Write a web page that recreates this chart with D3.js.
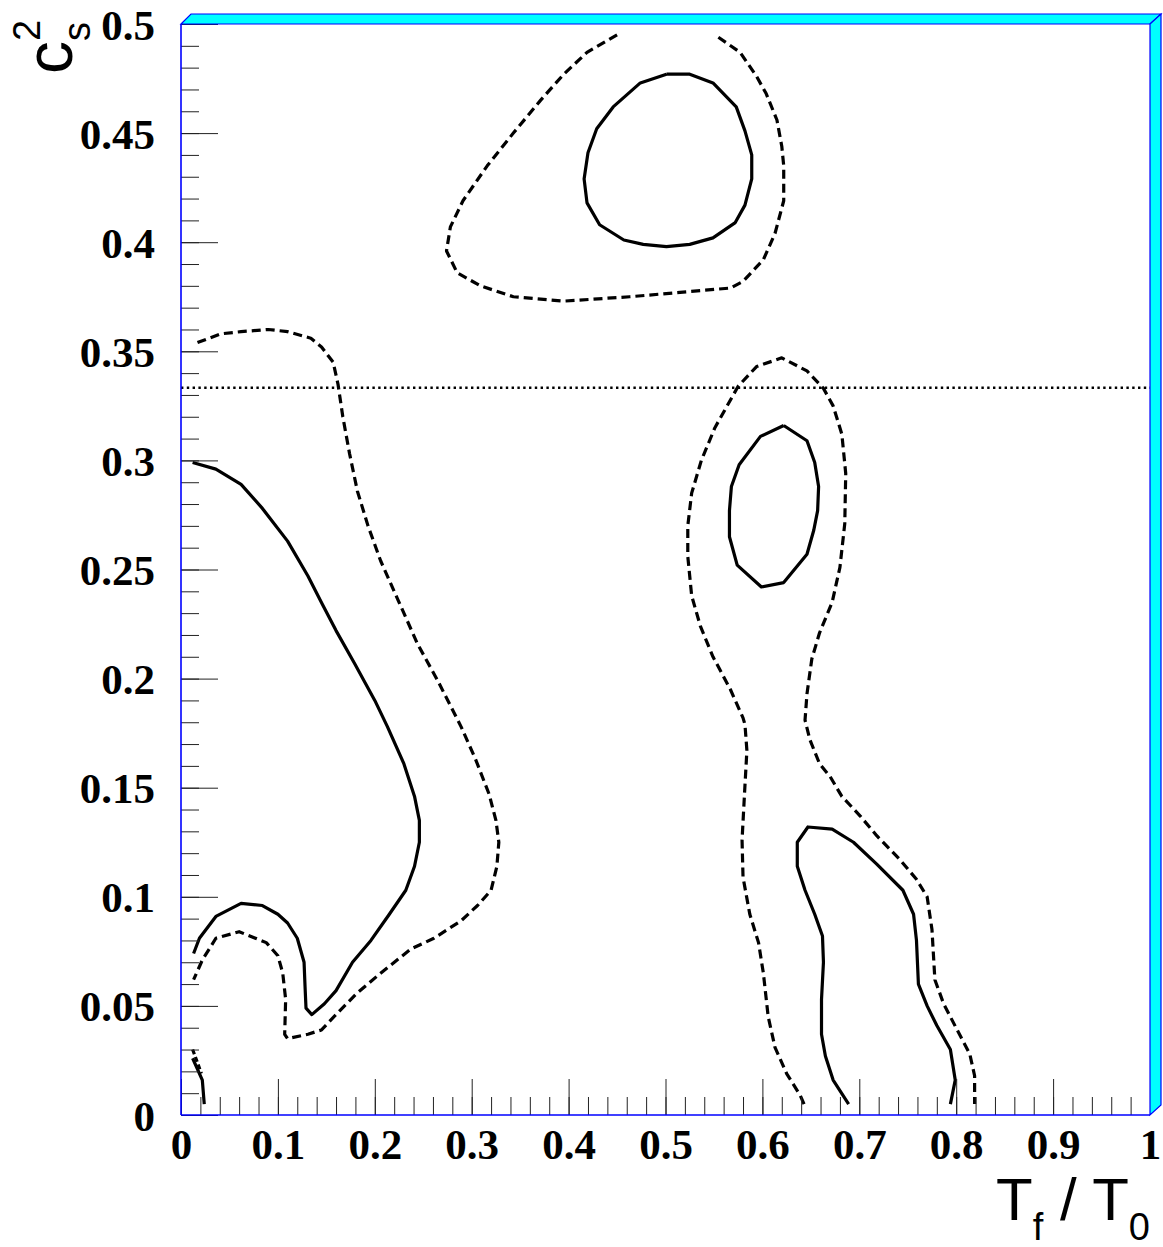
<!DOCTYPE html>
<html>
<head>
<meta charset="utf-8">
<script src="https://cdn.jsdelivr.net/npm/d3@7/dist/d3.min.js"></script>
<style>
  body { margin: 0; background: #fff; }
  .tick text { font-family: "Liberation Serif", "Times New Roman", serif; font-weight: bold; }
</style>
</head>
<body>
<div id="chart"></div>
<script>
// tick labels
var xTickVals = [0, 0.1, 0.2, 0.3, 0.4, 0.5, 0.6, 0.7, 0.8, 0.9, 1];
var xTickLabels = ["0", "0.1", "0.2", "0.3", "0.4", "0.5", "0.6", "0.7", "0.8", "0.9", "1"];
var yTickVals = [0, 0.05, 0.1, 0.15, 0.2, 0.25, 0.3, 0.35, 0.4, 0.45, 0.5];
var yTickLabels = ["0", "0.05", "0.1", "0.15", "0.2", "0.25", "0.3", "0.35", "0.4", "0.45", "0.5"];

// reference line c_s^2 = 1/3
var csIdeal = 0.3333;

// contours, [T_f/T_0, c_s^2]
var solidTop = [[0.501,0.477],[0.525,0.477],[0.549,0.473],[0.573,0.462],[0.582,0.451],[0.589,0.440],
  [0.589,0.429],[0.582,0.417],[0.572,0.409],[0.549,0.402],[0.525,0.399],[0.501,0.398],[0.477,0.399],
  [0.457,0.401],[0.432,0.408],[0.419,0.418],[0.416,0.429],[0.420,0.441],[0.429,0.452],[0.446,0.462],
  [0.474,0.473],[0.501,0.477]];
var dashedTop = [[0.450,0.495],[0.419,0.487],[0.395,0.477],[0.371,0.465],[0.343,0.450],[0.316,0.435],
  [0.291,0.419],[0.278,0.407],[0.274,0.396],[0.285,0.386],[0.309,0.380],[0.343,0.375],[0.395,0.373],
  [0.463,0.375],[0.515,0.377],[0.567,0.379],[0.580,0.382],[0.601,0.392],[0.613,0.404],[0.622,0.419],
  [0.622,0.435],[0.620,0.444],[0.615,0.456],[0.604,0.468],[0.594,0.476],[0.577,0.487],[0.551,0.495]];
var solidMid = [[0.622,0.316],[0.646,0.309],[0.654,0.299],[0.658,0.288],[0.657,0.277],[0.653,0.268],
  [0.646,0.257],[0.622,0.244],[0.599,0.242],[0.574,0.252],[0.566,0.265],[0.566,0.277],[0.568,0.288],
  [0.576,0.298],[0.598,0.311],[0.622,0.316]];
var dashedMid = [[0.643,0.005],[0.639,0.009],[0.625,0.019],[0.613,0.031],[0.606,0.045],[0.601,0.065],
  [0.596,0.079],[0.587,0.092],[0.580,0.109],[0.579,0.126],[0.582,0.151],[0.584,0.167],[0.582,0.179],
  [0.580,0.182],[0.567,0.195],[0.549,0.210],[0.536,0.224],[0.527,0.238],[0.523,0.256],[0.523,0.270],
  [0.527,0.285],[0.537,0.300],[0.551,0.315],[0.575,0.334],[0.594,0.343],[0.620,0.347],[0.646,0.341],
  [0.663,0.333],[0.673,0.325],[0.682,0.312],[0.686,0.294],[0.685,0.271],[0.680,0.251],[0.672,0.235],
  [0.659,0.221],[0.651,0.209],[0.646,0.193],[0.644,0.181],[0.649,0.172],[0.659,0.161],[0.670,0.155],
  [0.682,0.146],[0.701,0.137],[0.718,0.128],[0.742,0.117],[0.759,0.108],[0.770,0.100],[0.775,0.085],
  [0.778,0.062],[0.787,0.051],[0.801,0.039],[0.814,0.028],[0.819,0.018],[0.819,0.005]];
var solidLowRight = [[0.689,0.005],[0.673,0.016],[0.665,0.027],[0.661,0.037],[0.661,0.053],[0.663,0.070],
  [0.662,0.082],[0.654,0.092],[0.644,0.103],[0.636,0.114],[0.636,0.125],[0.647,0.132],[0.672,0.131],
  [0.694,0.125],[0.718,0.115],[0.745,0.103],[0.756,0.092],[0.759,0.080],[0.761,0.060],[0.770,0.050],
  [0.780,0.041],[0.794,0.030],[0.799,0.016],[0.794,0.005]];
var solidLeft = [[0.012,0.299],[0.036,0.296],[0.062,0.289],[0.084,0.278],[0.110,0.263],[0.131,0.247],
  [0.146,0.234],[0.160,0.222],[0.179,0.207],[0.200,0.190],[0.213,0.178],[0.230,0.161],[0.241,0.146],
  [0.246,0.135],[0.246,0.125],[0.241,0.114],[0.232,0.103],[0.215,0.092],[0.196,0.080],[0.177,0.070],
  [0.160,0.057],[0.148,0.051],[0.135,0.046],[0.129,0.049],[0.128,0.059],[0.127,0.070],[0.120,0.081],
  [0.110,0.088],[0.100,0.092],[0.084,0.096],[0.062,0.097],[0.036,0.091],[0.019,0.081],[0.013,0.074]];
var dashedLeft = [[0.017,0.354],[0.041,0.358],[0.062,0.359],[0.090,0.360],[0.110,0.359],[0.134,0.356],
  [0.145,0.352],[0.157,0.345],[0.162,0.335],[0.167,0.320],[0.174,0.303],[0.182,0.286],[0.193,0.270],
  [0.206,0.254],[0.224,0.236],[0.244,0.216],[0.265,0.199],[0.289,0.178],[0.304,0.163],[0.318,0.147],
  [0.325,0.135],[0.328,0.125],[0.326,0.114],[0.320,0.103],[0.306,0.096],[0.289,0.089],[0.261,0.081],
  [0.237,0.076],[0.206,0.065],[0.182,0.056],[0.162,0.047],[0.145,0.039],[0.131,0.037],[0.110,0.035],
  [0.107,0.037],[0.108,0.053],[0.105,0.065],[0.100,0.073],[0.088,0.079],[0.060,0.084],[0.036,0.081],
  [0.022,0.071],[0.013,0.062]];
var solidCorner = [[0.012,0.026],[0.018,0.020],[0.022,0.016],[0.024,0.005]];
var dashedCorner = [[0.012,0.030],[0.017,0.024],[0.021,0.019]];

var W = 1163, H = 1247;
var padL = 181, padR = 1150, padT = 24, padB = 1115;

var svg = d3.select("#chart").append("svg")
  .attr("width", W)
  .attr("height", H);

var x = d3.scaleLinear().domain([0, 1]).range([padL, padR]);
var y = d3.scaleLinear().domain([0, 0.5]).range([padB, padT]);

svg.append("clipPath").attr("id", "plotclip")
  .append("rect")
  .attr("x", padL).attr("y", padT)
  .attr("width", padR - padL).attr("height", padB - padT);

var plot = svg.append("g").attr("clip-path", "url(#plotclip)");

var line = d3.line()
  .x(function(d) { return x(d[0]); })
  .y(function(d) { return y(d[1]); });

// horizontal dotted line at 1/3
plot.append("line")
  .attr("x1", x(0)).attr("x2", x(1))
  .attr("y1", y(csIdeal)).attr("y2", y(csIdeal))
  .attr("stroke", "#000")
  .attr("stroke-width", 2.6)
  .attr("stroke-dasharray", "2.4,3.4");

var contours = [
  {pts: solidTop, dash: null},
  {pts: dashedTop, dash: "9,5"},
  {pts: solidMid, dash: null},
  {pts: dashedMid, dash: "9,5"},
  {pts: solidLowRight, dash: null},
  {pts: solidLeft, dash: null},
  {pts: dashedLeft, dash: "9,5"},
  {pts: solidCorner, dash: null},
  {pts: dashedCorner, dash: "5,3"}
];

plot.selectAll("path.contour")
  .data(contours)
  .enter()
  .append("path")
  .attr("class", "contour")
  .attr("d", function(c) { return line(c.pts); })
  .attr("fill", "none")
  .attr("stroke", "#000")
  .attr("stroke-width", 3.2)
  .attr("stroke-linejoin", "round")
  .attr("stroke-dasharray", function(c) { return c.dash; });

// minor ticks
svg.append("g")
  .attr("transform", "translate(0," + padB + ")")
  .call(d3.axisBottom(x).ticks(50).tickSize(-18).tickFormat(""))
  .call(function(g) { g.select(".domain").remove(); });
svg.append("g")
  .attr("transform", "translate(" + padL + ",0)")
  .call(d3.axisLeft(y).ticks(50).tickSize(-18).tickFormat(""))
  .call(function(g) { g.select(".domain").remove(); });

// major ticks + labels
var xAxis = svg.append("g")
  .attr("transform", "translate(0," + padB + ")")
  .call(d3.axisBottom(x).tickValues(xTickVals).tickSize(-36).tickPadding(8)
    .tickFormat(function(d, i) { return xTickLabels[i]; }));
xAxis.select(".domain").remove();
xAxis.selectAll("text")
  .attr("y", 44)
  .attr("dy", null)
  .attr("font-size", 43)
  .attr("fill", "#000");

var yAxis = svg.append("g")
  .attr("transform", "translate(" + padL + ",0)")
  .call(d3.axisLeft(y).tickValues(yTickVals).tickSize(-37).tickPadding(26)
    .tickFormat(function(d, i) { return yTickLabels[i]; }));
yAxis.select(".domain").remove();
yAxis.selectAll("text")
  .attr("dy", 15)
  .attr("font-size", 43)
  .attr("fill", "#000");

svg.selectAll(".tick line").attr("stroke", "#222").attr("stroke-width", 1);

// frame: blue axis lines, cyan raised border on top/right
svg.append("line")
  .attr("x1", padL).attr("x2", padL).attr("y1", padT).attr("y2", padB)
  .attr("stroke", "#0000ff").attr("stroke-width", 1.6);
svg.append("line")
  .attr("x1", padL).attr("x2", padR).attr("y1", padB).attr("y2", padB)
  .attr("stroke", "#0000ff").attr("stroke-width", 1.6);

var bw = 10;
svg.append("polygon")
  .attr("points", [[padL, padT], [padL + bw, padT - bw], [padR + bw + 1, padT - bw], [padR, padT]].join(" "))
  .attr("fill", "#00ffff").attr("stroke", "#0000ff").attr("stroke-width", 1.2);
svg.append("polygon")
  .attr("points", [[padR, padT], [padR + bw + 1, padT - bw], [padR + bw + 1, padB - bw], [padR, padB]].join(" "))
  .attr("fill", "#00ffff").attr("stroke", "#0000ff").attr("stroke-width", 1.2);

// axis titles
var xTitle = svg.append("text")
  .attr("x", padR)
  .attr("y", 1220)
  .attr("text-anchor", "end")
  .attr("font-family", "'Liberation Sans', Arial, sans-serif")
  .attr("font-size", 60)
  .attr("fill", "#000");
xTitle.append("tspan").text("T");
xTitle.append("tspan").attr("font-size", 38).attr("dy", 20).text("f");
xTitle.append("tspan").attr("dy", -20).text(" / T");
xTitle.append("tspan").attr("font-size", 38).attr("dy", 20).text("0");

var yTitle = svg.append("g")
  .attr("transform", "translate(72,74) rotate(-90)")
  .attr("font-family", "'Liberation Sans', Arial, sans-serif")
  .attr("fill", "#000");
yTitle.append("text").attr("x", 0).attr("y", 0).attr("font-size", 66).text("c");
yTitle.append("text").attr("x", 33).attr("y", 18).attr("font-size", 38).text("s");
yTitle.append("text").attr("x", 33).attr("y", -32).attr("font-size", 38).text("2");
</script>
</body>
</html>
